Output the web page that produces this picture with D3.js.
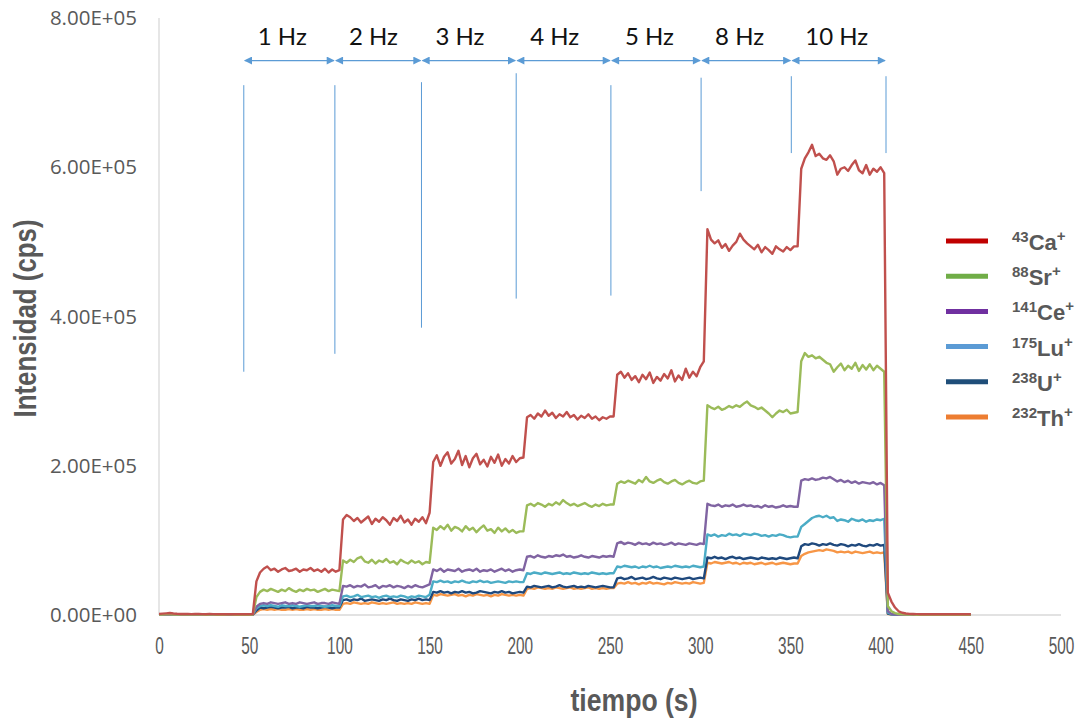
<!DOCTYPE html>
<html>
<head>
<meta charset="utf-8">
<script src="https://cdn.jsdelivr.net/npm/d3@7/dist/d3.min.js"></script>
<style>
  html, body { margin: 0; padding: 0; background: #ffffff; }
  svg { display: block; }
</style>
</head>
<body>
<svg id="chart" width="1087" height="722"></svg>
<script>
// Sampling grid (s) shared by all isotopes
const tiempo = d3.range(0, 451, 2);

// Signal intensities, in thousands of cps, one value per sample time
const ca43 = [
  1.5,1.8,2.2,2.6,2.0,1.6,1.4,1.5,1.3,1.2,1.4,1.3,1.2,1.1,1.3,1.2,1.1,1.2,1.0,1.1,1.2,1.0,1.1,1.0,1.2,1.1,1.3,
  45,
  57,62,65,60,62,58,61,63,59,60,62,58,61,60,63,59,61,58,62,57,61,58,60,
  128,134,131,126,130,124,128,132,122,129,125,131,127,121,130,126,133,124,128,121,129,125,131,123,137,
  205,214,200,212,218,203,209,220,201,213,198,210,216,202,208,199,212,204,215,200,209,203,213,205,210,
  211,
  265,268,263,270,266,274,267,271,264,269,266,272,265,268,262,267,264,269,263,266,261,265,263,266,
  266,
  322,326,318,324,315,320,312,322,316,325,311,319,314,323,317,328,313,321,315,330,318,326,320,332,340,
  517,503,498,502,492,497,488,495,500,511,503,498,494,490,496,486,493,489,484,494,490,487,493,489,494,
  494,
  598,612,620,630,615,618,612,610,616,608,590,598,600,595,603,609,596,592,603,590,598,594,600,592,
  30,18,10,5,3,2,1.5,1.3,1.2,1.1,1.2,1.1,1.0,1.1,1.2,1.0,1.1,1.0,1.1,1.0,1.1,1.0,1.1,1.0
];
const sr88 = [
  0.6,0.7,0.8,0.9,0.7,0.6,0.5,0.6,0.5,0.5,0.6,0.5,0.5,0.4,0.5,0.5,0.4,0.5,0.4,0.5,0.5,0.4,0.5,0.4,0.5,0.4,0.5,
  24,
  31,34,32,35,33,31,34,32,36,33,31,34,32,35,33,34,31,33,35,32,34,33,32,
  73,70,74,71,76,78,72,70,74,69,73,71,75,70,72,68,74,71,69,73,70,72,68,71,70,
  117,114,119,115,121,113,118,116,112,119,114,117,111,116,120,113,115,110,117,112,116,111,114,110,112,
  112,
  147,149,146,150,148,145,149,147,151,148,154,150,147,149,146,148,150,147,145,148,146,149,147,148,
  148,
  176,179,177,180,178,176,181,178,185,179,177,180,182,178,176,179,181,177,175,178,180,177,176,179,180,
  281,278,276,279,275,277,280,278,281,279,283,286,281,279,276,278,274,270,265,270,274,272,275,270,271,
  272,
  340,351,346,348,344,346,342,338,336,326,332,337,328,334,330,338,327,335,329,336,328,334,330,326,
  12,5,2.5,1.3,0.8,0.6,0.5,0.5,0.4,0.5,0.4,0.5,0.4,0.4,0.5,0.4,0.4,0.5,0.4,0.4,0.5,0.4,0.4,0.4
];
const ce141 = [
  0.3,0.4,0.4,0.5,0.4,0.3,0.3,0.3,0.3,0.3,0.3,0.3,0.3,0.3,0.3,0.3,0.3,0.3,0.3,0.3,0.3,0.3,0.3,0.3,0.3,0.3,0.3,
  11,
  15,16,15,17,16,15,16,17,15,16,15,17,16,15,16,17,15,16,16,15,17,16,15,
  39,38,40,37,39,38,41,37,38,40,36,39,38,40,37,39,38,36,39,37,40,38,37,39,41,
  61,59,62,58,61,60,59,62,58,60,61,59,62,58,60,59,61,58,60,62,59,61,58,60,61,
  60,
  78,79,77,80,78,77,79,78,80,79,81,78,79,77,78,80,78,77,79,78,77,79,78,79,
  78,
  96,98,95,97,96,94,97,95,96,94,97,95,96,94,95,97,94,96,95,94,96,95,94,96,95,
  149,147,146,148,145,147,146,148,145,146,148,146,147,145,146,144,147,145,146,144,145,147,145,146,145,
  145,
  180,182,181,183,181,182,184,183,185,182,179,181,178,180,177,179,176,178,177,176,178,175,177,174,
  5,1.5,0.6,0.4,0.3,0.3,0.3,0.3,0.3,0.3,0.3,0.3,0.3,0.3,0.3,0.3,0.3,0.3,0.3,0.3,0.3,0.3,0.3,0.3
];
const lu175 = [
  0.3,0.4,0.4,0.4,0.3,0.3,0.3,0.3,0.3,0.3,0.3,0.3,0.3,0.3,0.3,0.3,0.3,0.3,0.3,0.3,0.3,0.3,0.3,0.3,0.3,0.3,0.3,
  9,
  12,13,12,13,12,11,13,12,12,13,12,11,12,13,12,12,13,12,11,12,13,12,12,
  25,26,24,25,27,24,25,26,24,25,23,25,26,24,25,24,26,25,23,25,24,26,25,24,27,
  45,44,46,44,45,43,45,44,46,44,43,45,44,46,44,45,43,44,45,44,43,45,44,45,44,
  44,
  56,55,57,56,55,57,56,55,56,57,55,56,55,57,56,55,56,55,57,56,55,56,55,56,
  56,
  65,64,66,65,64,65,63,65,64,66,64,65,63,64,65,64,66,65,64,65,64,66,65,64,65,
  108,106,108,105,107,106,109,107,108,106,109,108,107,109,108,106,107,105,107,106,108,107,105,104,105,
  105,
  118,122,126,130,132,133,131,133,130,131,126,128,127,125,129,127,126,128,125,127,126,128,127,129,
  3,1,0.5,0.3,0.3,0.3,0.3,0.3,0.3,0.3,0.3,0.3,0.3,0.3,0.3,0.3,0.3,0.3,0.3,0.3,0.3,0.3,0.3,0.3
];
const u238 = [
  0.4,0.5,0.5,0.5,0.4,0.4,0.4,0.4,0.4,0.4,0.4,0.4,0.4,0.4,0.4,0.4,0.4,0.4,0.4,0.4,0.4,0.4,0.4,0.4,0.4,0.4,0.4,
  6,
  10,9,10,11,10,9,10,10,11,9,10,10,9,11,10,10,9,10,11,10,9,10,10,
  20,21,19,21,20,22,19,20,21,20,19,21,20,22,20,19,21,20,19,21,20,22,20,21,20,
  31,30,32,30,31,29,31,30,32,30,31,29,30,32,31,30,29,31,30,32,30,31,29,30,31,
  30,
  38,37,39,38,37,38,39,37,38,40,38,37,38,39,37,38,37,39,38,37,38,39,38,37,
  37,
  49,50,48,49,51,48,49,50,48,49,51,49,48,50,49,48,50,49,48,49,50,48,49,50,49,
  77,76,78,76,77,75,77,78,76,77,75,76,77,76,75,77,76,75,76,75,77,76,75,76,77,
  76,
  92,95,94,96,95,93,95,94,96,94,93,95,94,92,94,93,95,93,92,94,93,95,93,94,
  2,0.8,0.5,0.4,0.4,0.4,0.4,0.4,0.4,0.4,0.4,0.4,0.4,0.4,0.4,0.4,0.4,0.4,0.4,0.4,0.4,0.4,0.4,0.4
];
const th232 = [
  0.3,0.3,0.4,0.4,0.3,0.3,0.3,0.3,0.3,0.3,0.3,0.3,0.3,0.3,0.3,0.3,0.3,0.3,0.3,0.3,0.3,0.3,0.3,0.3,0.3,0.3,0.3,
  4,
  7,8,7,8,7,8,7,7,8,7,8,7,7,8,7,8,7,7,8,7,8,7,7,
  15,16,15,17,16,15,16,15,17,16,15,16,15,16,17,15,16,15,16,15,17,16,15,16,15,
  27,26,28,27,26,27,28,26,27,25,27,26,28,27,26,27,25,27,26,28,27,26,27,26,27,
  26,
  35,36,35,37,36,35,36,35,37,36,35,36,37,35,36,35,36,37,35,36,35,36,35,36,
  36,
  42,43,42,44,42,43,41,43,42,44,42,43,42,41,43,42,44,43,42,43,42,44,43,42,43,
  70,69,71,70,69,70,71,69,70,68,70,69,70,68,69,70,68,69,70,68,69,70,69,68,69,
  69,
  79,82,84,85,86,87,86,88,87,86,84,85,84,85,83,85,84,83,84,85,83,84,83,84,
  1.5,0.6,0.4,0.3,0.3,0.3,0.3,0.3,0.3,0.3,0.3,0.3,0.3,0.3,0.3,0.3,0.3,0.3,0.3,0.3,0.3,0.3,0.3,0.3
];

// Isotope labels (mass number + element) and colours
const masas = ["43", "88", "141", "175", "238", "232"];
const elementos = ["Ca", "Sr", "Ce", "Lu", "U", "Th"];
const colorSerie = ["#C0504D", "#9BBB59", "#8064A2", "#4BACC6", "#1F497D", "#F79646"];
const colorLeyenda = ["#C00000", "#70AD47", "#7030A0", "#5B9BD5", "#1F4E79", "#ED7D31"];
const series = [ca43, sr88, ce141, lu175, u238, th232];

// Laser repetition-rate intervals (s) and their labels
const frecuencias = ["1 Hz", "2 Hz", "3 Hz", "4 Hz", "5 Hz", "8 Hz", "10 Hz"];
const limites = [47, 97.5, 145.5, 198, 250.5, 300.5, 350.5, 403];
const marcaArriba = [710, 710, 714, 726, 710, 720, 722, 722];   // kcps
const marcaAbajo  = [326, 350, 385, 424, 428, 568, 619, 619];   // kcps
const flechaNivel = 743;                                        // kcps

// Axis ticks
const ticksX = [0, 50, 100, 150, 200, 250, 300, 350, 400, 450, 500];
const ticksY = [0, 200, 400, 600, 800];

const svg = d3.select("#chart");
const margin = { left: 159, top: 18, right: 26, bottom: 107 };
const W = 1087, H = 722;

const x = d3.scaleLinear().domain([0, 500]).range([margin.left, W - margin.right]);
const y = d3.scaleLinear().domain([0, 800]).range([H - margin.bottom, margin.top]);

const sci = v => {
  if (v === 0) return "0.00E+00";
  const e = Math.floor(Math.log10(v));
  return (v / Math.pow(10, e)).toFixed(2) + "E+" + String(e).padStart(2, "0");
};

// Axis lines
svg.append("line")
  .attr("x1", x(0)).attr("x2", x(0)).attr("y1", y(800)).attr("y2", y(0))
  .attr("stroke", "#d9d9d9").attr("stroke-width", 1.3);
svg.append("line")
  .attr("x1", x(0)).attr("x2", x(500)).attr("y1", y(0)).attr("y2", y(0))
  .attr("stroke", "#d9d9d9").attr("stroke-width", 1.3);

// Y tick labels
const yAxis = d3.axisLeft(y).tickValues(ticksY).tickSize(0).tickPadding(22)
  .tickFormat(d => sci(d * 1000));
svg.append("g").attr("transform", `translate(${x(0)},0)`).call(yAxis)
  .call(g => g.select(".domain").remove())
  .call(g => g.selectAll("text")
    .attr("fill", "#595959")
    .style("font-family", "'Open Sans', 'Noto Sans', sans-serif")
    .style("font-size", "20.5px"));

// X tick labels (condensed digits)
const xAxis = d3.axisBottom(x).tickValues(ticksX).tickSize(0).tickPadding(22)
  .tickFormat(d3.format("d"));
svg.append("g").attr("transform", `translate(0,${y(0)})`).call(xAxis)
  .call(g => g.select(".domain").remove())
  .call(g => g.selectAll("text")
    .attr("fill", "#595959")
    .attr("transform", "scale(0.64,1)")
    .style("font-family", "'Liberation Sans', Arial, sans-serif")
    .style("font-size", "24px"));

// Axis titles
svg.append("text")
  .attr("transform", `translate(36,${(y(0) + y(800)) / 2 + 2}) rotate(-90)`)
  .attr("text-anchor", "middle")
  .attr("fill", "#595959")
  .attr("textLength", 198).attr("lengthAdjust", "spacingAndGlyphs")
  .style("font-family", "'Liberation Sans', Arial, sans-serif")
  .style("font-weight", "bold").style("font-size", "31px")
  .text("Intensidad (cps)");
svg.append("text")
  .attr("x", 634).attr("y", 711)
  .attr("text-anchor", "middle")
  .attr("fill", "#595959")
  .attr("textLength", 127).attr("lengthAdjust", "spacingAndGlyphs")
  .style("font-family", "'Liberation Sans', Arial, sans-serif")
  .style("font-weight", "bold").style("font-size", "31px")
  .text("tiempo (s)");

// Frequency markers: vertical guides
const azul = "#5B9BD5";
svg.append("g").selectAll("line").data(limites).join("line")
  .attr("x1", d => x(d)).attr("x2", d => x(d))
  .attr("y1", (d, i) => y(marcaArriba[i])).attr("y2", (d, i) => y(marcaAbajo[i]))
  .attr("stroke", azul).attr("stroke-width", 1);

// Double-headed arrows between guides
const defs = svg.append("defs");
defs.append("marker").attr("id", "punta").attr("viewBox", "0 0 10 10")
  .attr("refX", 9).attr("refY", 5).attr("markerWidth", 10).attr("markerHeight", 8)
  .attr("markerUnits", "userSpaceOnUse").attr("orient", "auto-start-reverse")
  .append("path").attr("d", "M0,0 L10,5 L0,10 Z").attr("fill", azul);

const tramos = frecuencias.map((f, i) => ({ f, a: limites[i], b: limites[i + 1] }));
svg.append("g").selectAll("line").data(tramos).join("line")
  .attr("x1", d => x(d.a) + 1).attr("x2", d => x(d.b) - 1)
  .attr("y1", y(flechaNivel)).attr("y2", y(flechaNivel))
  .attr("stroke", azul).attr("stroke-width", 1.2)
  .attr("marker-start", "url(#punta)").attr("marker-end", "url(#punta)");

svg.append("g").selectAll("text").data(tramos).join("text")
  .attr("x", d => x(d.a) + 14).attr("y", y(flechaNivel) - 16)
  .attr("fill", "#111")
  .style("font-family", "Lato, 'Open Sans', sans-serif")
  .style("font-size", "24px")
  .text(d => d.f);

// Signal traces (calcium drawn last so it sits on top)
const linea = d3.line()
  .x((d, i) => x(tiempo[i]))
  .y(d => y(d));
const orden = [5, 4, 3, 2, 1, 0];
svg.append("g").selectAll("path").data(orden).join("path")
  .attr("d", k => linea(series[k]))
  .attr("fill", "none")
  .attr("stroke", k => colorSerie[k])
  .attr("stroke-width", 2.4)
  .attr("stroke-linejoin", "round");

// Legend
const leg = svg.append("g");
const filas = elementos.map((e, i) => ({ e, m: masas[i], c: colorLeyenda[i], yy: 241 + i * 35.2 }));
leg.selectAll("line").data(filas).join("line")
  .attr("x1", 946).attr("x2", 988)
  .attr("y1", d => d.yy).attr("y2", d => d.yy)
  .attr("stroke", d => d.c).attr("stroke-width", 5);
const etq = leg.selectAll("text").data(filas).join("text")
  .attr("x", 1012).attr("y", d => d.yy + 9)
  .attr("fill", "#595959")
  .style("font-family", "'Liberation Sans', Arial, sans-serif")
  .style("font-weight", "bold");
etq.append("tspan").style("font-size", "15px").attr("dy", -8).text(d => d.m);
etq.append("tspan").style("font-size", "22px").attr("dy", 8).text(d => d.e);
etq.append("tspan").style("font-size", "15px").attr("dy", -9).text("+");
</script>
</body>
</html>
